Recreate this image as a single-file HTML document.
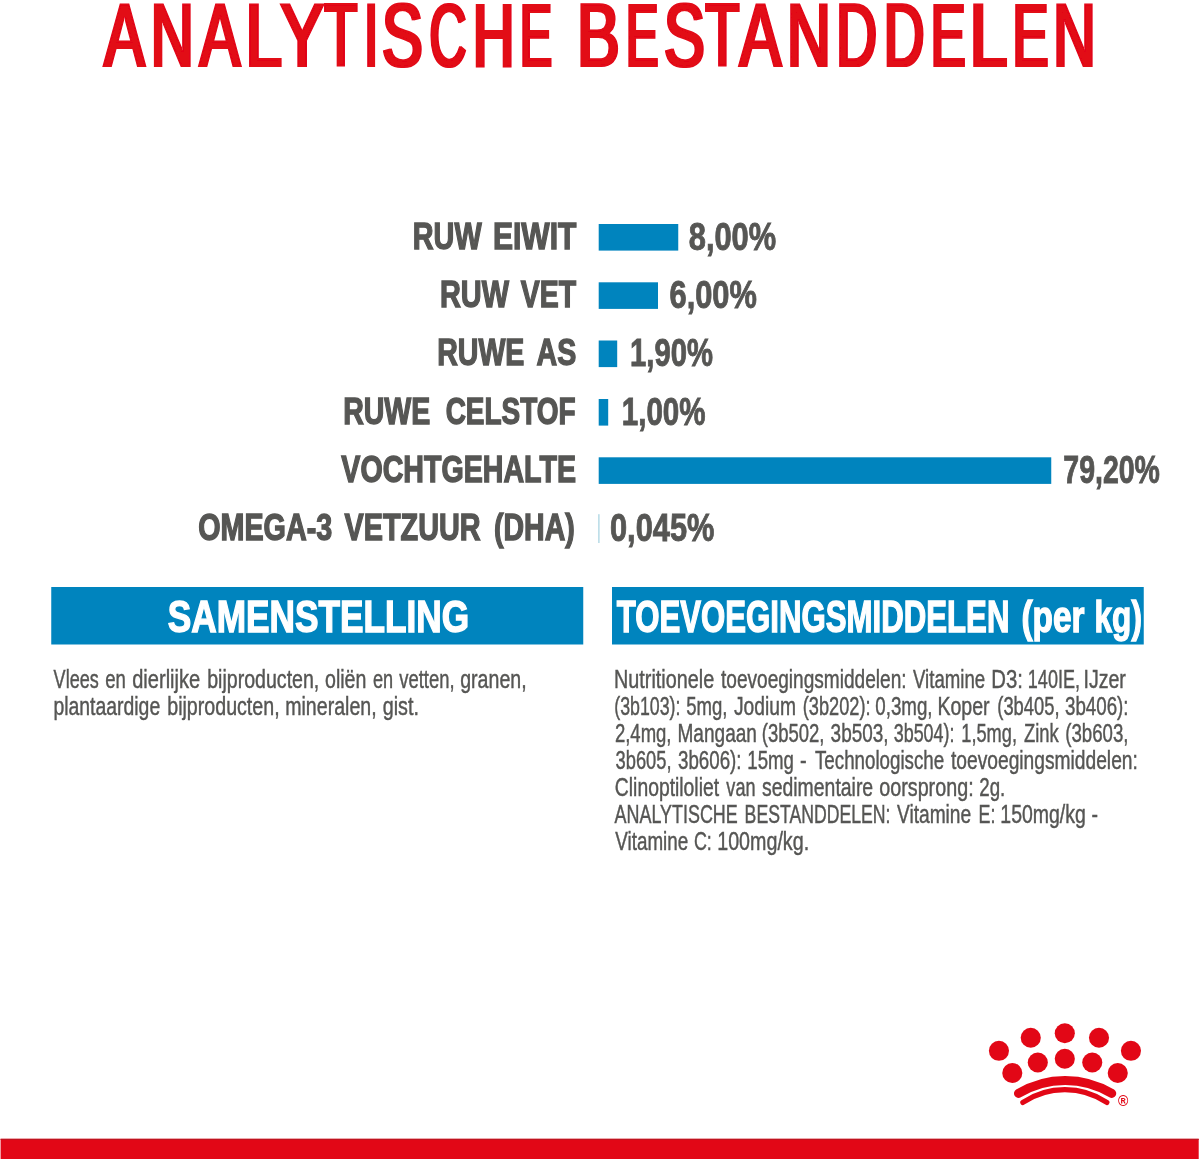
<!DOCTYPE html>
<html lang="nl"><head><meta charset="utf-8"><title>Analytische bestanddelen</title>
<style>
html,body{margin:0;padding:0;background:#fff}
svg{display:block}
svg text{font-family:"Liberation Sans",sans-serif;white-space:pre}
</style></head><body>
<svg width="1200" height="1159" viewBox="0 0 1200 1159">
<defs><filter id="hx" x="-2%" y="-10%" width="104%" height="120%"><feMorphology operator="dilate" radius="1 0"/></filter></defs>
<rect width="1200" height="1159" fill="#fff"/>
<rect x="598.7" y="224.0" width="79.55" height="26.60" fill="#0084be"/>
<rect x="598.7" y="282.3" width="59.30" height="26.60" fill="#0084be"/>
<rect x="598.7" y="340.5" width="18.50" height="26.60" fill="#0084be"/>
<rect x="598.7" y="399.0" width="9.50" height="26.60" fill="#0084be"/>
<rect x="598.7" y="457.3" width="452.55" height="26.60" fill="#0084be"/>
<rect x="598.0" y="514.2" width="1.7" height="28.8" fill="#bfdfe9"/>
<rect x="51.25" y="587" width="532.0" height="57.5" fill="#0084be"/>
<rect x="612" y="587" width="531.75" height="57.5" fill="#0084be"/>
<rect x="0.6" y="1138.8" width="1198.1" height="21" fill="#e20716"/>
<rect x="0.6" y="1138.8" width="1198.1" height="1.2" fill="#bf1420"/>
<circle cx="998.95" cy="1050.8" r="10.05" fill="#e20716"/>
<circle cx="1030.75" cy="1037.75" r="10.05" fill="#e20716"/>
<circle cx="1064.8" cy="1033.25" r="10.05" fill="#e20716"/>
<circle cx="1099" cy="1037.75" r="10.05" fill="#e20716"/>
<circle cx="1130.95" cy="1050.8" r="10.05" fill="#e20716"/>
<circle cx="1012.3" cy="1073" r="10.05" fill="#e20716"/>
<circle cx="1037.8" cy="1062.5" r="10.05" fill="#e20716"/>
<circle cx="1064.8" cy="1058.75" r="10.05" fill="#e20716"/>
<circle cx="1092.25" cy="1062.5" r="10.05" fill="#e20716"/>
<circle cx="1117.75" cy="1073" r="10.05" fill="#e20716"/>
<path d="M1018.5 1093.4 A90 90 0 0 1 1111.7 1093.4" fill="none" stroke="#e20716" stroke-width="9" stroke-linecap="round"/>
<path d="M1022.9 1102.4 A75.3 75.3 0 0 1 1106.8 1102.4" fill="none" stroke="#e20716" stroke-width="5.3" stroke-linecap="round"/>
<text x="1123.1" y="1105.5" font-size="14" font-weight="bold" text-anchor="middle" fill="#e20716">®</text>
<text filter="url(#hx)" y="65.70" font-size="89.54" font-weight="normal" fill="#e20716" stroke="#e20716" stroke-width="2.2" stroke-linejoin="miter"><tspan x="104.35" textLength="40.31" lengthAdjust="spacingAndGlyphs">A</tspan><tspan x="150.70" textLength="42.98" lengthAdjust="spacingAndGlyphs">N</tspan><tspan x="199.75" textLength="40.31" lengthAdjust="spacingAndGlyphs">A</tspan><tspan x="245.62" textLength="36.47" lengthAdjust="spacingAndGlyphs">L</tspan><tspan x="280.62" textLength="43.37" lengthAdjust="spacingAndGlyphs">Y</tspan><tspan x="324.55" textLength="32.71" lengthAdjust="spacingAndGlyphs">T</tspan><tspan x="364.31" textLength="13.82" lengthAdjust="spacingAndGlyphs">I</tspan><tspan x="382.02" textLength="40.77" lengthAdjust="spacingAndGlyphs">S</tspan><tspan x="429.47" textLength="36.79" lengthAdjust="spacingAndGlyphs">C</tspan><tspan x="472.72" textLength="41.84" lengthAdjust="spacingAndGlyphs">H</tspan><tspan x="520.01" textLength="31.93" lengthAdjust="spacingAndGlyphs">E</tspan> <tspan x="576.95" textLength="42.67" lengthAdjust="spacingAndGlyphs">B</tspan><tspan x="625.96" textLength="32.30" lengthAdjust="spacingAndGlyphs">E</tspan><tspan x="664.02" textLength="40.77" lengthAdjust="spacingAndGlyphs">S</tspan><tspan x="705.51" textLength="33.78" lengthAdjust="spacingAndGlyphs">T</tspan><tspan x="739.75" textLength="41.30" lengthAdjust="spacingAndGlyphs">A</tspan><tspan x="787.01" textLength="43.74" lengthAdjust="spacingAndGlyphs">N</tspan><tspan x="836.34" textLength="40.71" lengthAdjust="spacingAndGlyphs">D</tspan><tspan x="883.84" textLength="40.71" lengthAdjust="spacingAndGlyphs">D</tspan><tspan x="930.68" textLength="34.73" lengthAdjust="spacingAndGlyphs">E</tspan><tspan x="969.41" textLength="37.97" lengthAdjust="spacingAndGlyphs">L</tspan><tspan x="1012.54" textLength="35.95" lengthAdjust="spacingAndGlyphs">E</tspan><tspan x="1053.15" textLength="42.47" lengthAdjust="spacingAndGlyphs">N</tspan></text>
<text y="249.35" font-size="37.36" font-weight="bold" fill="#565654" stroke="#565654" stroke-width="1.4" stroke-linejoin="miter"><tspan x="412.76" textLength="68.87" lengthAdjust="spacingAndGlyphs">RUW</tspan> <tspan x="492.89" textLength="83.46" lengthAdjust="spacingAndGlyphs">EIWIT</tspan></text>
<text y="307.35" font-size="37.36" font-weight="bold" fill="#565654" stroke="#565654" stroke-width="1.4" stroke-linejoin="miter"><tspan x="439.95" textLength="68.98" lengthAdjust="spacingAndGlyphs">RUW</tspan> <tspan x="520.70" textLength="55.36" lengthAdjust="spacingAndGlyphs">VET</tspan></text>
<text y="365.45" font-size="37.36" font-weight="bold" fill="#565654" stroke="#565654" stroke-width="1.4" stroke-linejoin="miter"><tspan x="437.27" textLength="87.13" lengthAdjust="spacingAndGlyphs">RUWE</tspan> <tspan x="536.50" textLength="39.70" lengthAdjust="spacingAndGlyphs">AS</tspan></text>
<text y="423.75" font-size="37.36" font-weight="bold" fill="#565654" stroke="#565654" stroke-width="1.4" stroke-linejoin="miter"><tspan x="343.17" textLength="87.13" lengthAdjust="spacingAndGlyphs">RUWE</tspan> <tspan x="445.65" textLength="129.96" lengthAdjust="spacingAndGlyphs">CELSTOF</tspan></text>
<text x="341.30" y="482.25" textLength="234.70" lengthAdjust="spacingAndGlyphs" font-size="37.36" font-weight="bold" fill="#565654" stroke="#565654" stroke-width="1.4" stroke-linejoin="miter">VOCHTGEHALTE</text>
<text y="540.15" font-size="37.36" font-weight="bold" fill="#565654" stroke="#565654" stroke-width="1.4" stroke-linejoin="miter"><tspan x="198.13" textLength="134.07" lengthAdjust="spacingAndGlyphs">OMEGA-3</tspan> <tspan x="344.50" textLength="136.18" lengthAdjust="spacingAndGlyphs">VETZUUR</tspan> <tspan x="494.04" textLength="80.76" lengthAdjust="spacingAndGlyphs">(DHA)</tspan></text>
<text x="688.75" y="249.80" textLength="87.40" lengthAdjust="spacingAndGlyphs" font-size="38.52" font-weight="bold" fill="#565654" stroke="#565654" stroke-width="0.9" stroke-linejoin="miter">8,00%</text>
<text x="669.50" y="307.80" textLength="87.40" lengthAdjust="spacingAndGlyphs" font-size="38.52" font-weight="bold" fill="#565654" stroke="#565654" stroke-width="0.9" stroke-linejoin="miter">6,00%</text>
<text x="630.03" y="366.10" textLength="82.85" lengthAdjust="spacingAndGlyphs" font-size="38.52" font-weight="bold" fill="#565654" stroke="#565654" stroke-width="0.9" stroke-linejoin="miter">1,90%</text>
<text x="621.76" y="424.60" textLength="83.88" lengthAdjust="spacingAndGlyphs" font-size="38.52" font-weight="bold" fill="#565654" stroke="#565654" stroke-width="0.9" stroke-linejoin="miter">1,00%</text>
<text x="1063.31" y="482.80" textLength="96.57" lengthAdjust="spacingAndGlyphs" font-size="38.52" font-weight="bold" fill="#565654" stroke="#565654" stroke-width="0.9" stroke-linejoin="miter">79,20%</text>
<text x="610.00" y="541.00" textLength="104.40" lengthAdjust="spacingAndGlyphs" font-size="38.52" font-weight="bold" fill="#565654" stroke="#565654" stroke-width="0.9" stroke-linejoin="miter">0,045%</text>
<text x="167.70" y="632.00" textLength="301.52" lengthAdjust="spacingAndGlyphs" font-size="43.9" font-weight="bold" fill="#ffffff" stroke="#ffffff" stroke-width="1.4" stroke-linejoin="miter">SAMENSTELLING</text>
<text y="632.00" font-size="43.9" font-weight="bold" fill="#ffffff" stroke="#ffffff" stroke-width="1.4" stroke-linejoin="miter"><tspan x="616.75" textLength="392.67" lengthAdjust="spacingAndGlyphs">TOEVOEGINGSMIDDELEN</tspan> <tspan x="1021.48" textLength="63.08" lengthAdjust="spacingAndGlyphs">(per</tspan> <tspan x="1094.59" textLength="47.32" lengthAdjust="spacingAndGlyphs">kg)</tspan></text>
<text y="687.70" font-size="25.58" font-weight="normal" fill="#565654" stroke="#565654" stroke-width="0.45" stroke-linejoin="miter"><tspan x="53.60" textLength="45.12" lengthAdjust="spacingAndGlyphs">Vlees</tspan> <tspan x="105.28" textLength="20.61" lengthAdjust="spacingAndGlyphs">en</tspan> <tspan x="132.22" textLength="67.96" lengthAdjust="spacingAndGlyphs">dierlijke</tspan> <tspan x="207.23" textLength="112.08" lengthAdjust="spacingAndGlyphs">bijproducten,</tspan> <tspan x="325.03" textLength="41.40" lengthAdjust="spacingAndGlyphs">oliën</tspan> <tspan x="372.99" textLength="20.18" lengthAdjust="spacingAndGlyphs">en</tspan> <tspan x="399.30" textLength="55.21" lengthAdjust="spacingAndGlyphs">vetten,</tspan> <tspan x="460.23" textLength="66.38" lengthAdjust="spacingAndGlyphs">granen,</tspan></text>
<text y="715.00" font-size="25.58" font-weight="normal" fill="#565654" stroke="#565654" stroke-width="0.45" stroke-linejoin="miter"><tspan x="53.44" textLength="106.73" lengthAdjust="spacingAndGlyphs">plantaardige</tspan> <tspan x="167.23" textLength="112.38" lengthAdjust="spacingAndGlyphs">bijproducten,</tspan> <tspan x="285.23" textLength="91.38" lengthAdjust="spacingAndGlyphs">mineralen,</tspan> <tspan x="382.73" textLength="36.20" lengthAdjust="spacingAndGlyphs">gist.</tspan></text>
<text y="688.00" font-size="25.58" font-weight="normal" fill="#565654" stroke="#565654" stroke-width="0.45" stroke-linejoin="miter"><tspan x="614.05" textLength="100.12" lengthAdjust="spacingAndGlyphs">Nutritionele</tspan> <tspan x="721.00" textLength="185.57" lengthAdjust="spacingAndGlyphs">toevoegingsmiddelen:</tspan> <tspan x="913.00" textLength="72.16" lengthAdjust="spacingAndGlyphs">Vitamine</tspan> <tspan x="991.23" textLength="31.63" lengthAdjust="spacingAndGlyphs">D3:</tspan> <tspan x="1027.84" textLength="52.11" lengthAdjust="spacingAndGlyphs">140IE,</tspan> <tspan x="1083.47" textLength="42.41" lengthAdjust="spacingAndGlyphs">IJzer</tspan></text>
<text y="714.93" font-size="25.58" font-weight="normal" fill="#565654" stroke="#565654" stroke-width="0.45" stroke-linejoin="miter"><tspan x="614.31" textLength="66.16" lengthAdjust="spacingAndGlyphs">(3b103):</tspan> <tspan x="686.27" textLength="41.25" lengthAdjust="spacingAndGlyphs">5mg,</tspan> <tspan x="734.00" textLength="61.98" lengthAdjust="spacingAndGlyphs">Jodium</tspan> <tspan x="802.79" textLength="67.71" lengthAdjust="spacingAndGlyphs">(3b202):</tspan> <tspan x="875.27" textLength="57.28" lengthAdjust="spacingAndGlyphs">0,3mg,</tspan> <tspan x="937.47" textLength="52.16" lengthAdjust="spacingAndGlyphs">Koper</tspan> <tspan x="997.28" textLength="62.23" lengthAdjust="spacingAndGlyphs">(3b405,</tspan> <tspan x="1065.00" textLength="63.54" lengthAdjust="spacingAndGlyphs">3b406):</tspan></text>
<text y="741.86" font-size="25.58" font-weight="normal" fill="#565654" stroke="#565654" stroke-width="0.45" stroke-linejoin="miter"><tspan x="614.88" textLength="56.65" lengthAdjust="spacingAndGlyphs">2,4mg,</tspan> <tspan x="677.51" textLength="79.40" lengthAdjust="spacingAndGlyphs">Mangaan</tspan> <tspan x="761.78" textLength="62.75" lengthAdjust="spacingAndGlyphs">(3b502,</tspan> <tspan x="830.60" textLength="57.96" lengthAdjust="spacingAndGlyphs">3b503,</tspan> <tspan x="893.75" textLength="60.72" lengthAdjust="spacingAndGlyphs">3b504):</tspan> <tspan x="961.29" textLength="55.71" lengthAdjust="spacingAndGlyphs">1,5mg,</tspan> <tspan x="1024.00" textLength="34.85" lengthAdjust="spacingAndGlyphs">Zink</tspan> <tspan x="1065.27" textLength="63.27" lengthAdjust="spacingAndGlyphs">(3b603,</tspan></text>
<text y="768.79" font-size="25.58" font-weight="normal" fill="#565654" stroke="#565654" stroke-width="0.45" stroke-linejoin="miter"><tspan x="615.60" textLength="55.91" lengthAdjust="spacingAndGlyphs">3b605,</tspan> <tspan x="678.00" textLength="63.54" lengthAdjust="spacingAndGlyphs">3b606):</tspan> <tspan x="747.27" textLength="46.62" lengthAdjust="spacingAndGlyphs">15mg</tspan> <tspan x="799.97" textLength="6.68" lengthAdjust="spacingAndGlyphs">-</tspan> <tspan x="815.00" textLength="129.17" lengthAdjust="spacingAndGlyphs">Technologische</tspan> <tspan x="951.00" textLength="186.83" lengthAdjust="spacingAndGlyphs">toevoegingsmiddelen:</tspan></text>
<text y="795.72" font-size="25.58" font-weight="normal" fill="#565654" stroke="#565654" stroke-width="0.45" stroke-linejoin="miter"><tspan x="614.84" textLength="104.24" lengthAdjust="spacingAndGlyphs">Clinoptiloliet</tspan> <tspan x="726.35" textLength="29.17" lengthAdjust="spacingAndGlyphs">van</tspan> <tspan x="762.00" textLength="111.17" lengthAdjust="spacingAndGlyphs">sedimentaire</tspan> <tspan x="879.23" textLength="94.40" lengthAdjust="spacingAndGlyphs">oorsprong:</tspan> <tspan x="979.27" textLength="26.02" lengthAdjust="spacingAndGlyphs">2g.</tspan></text>
<text y="822.65" font-size="25.58" font-weight="normal" fill="#565654" stroke="#565654" stroke-width="0.45" stroke-linejoin="miter"><tspan x="614.60" textLength="123.14" lengthAdjust="spacingAndGlyphs">ANALYTISCHE</tspan> <tspan x="744.62" textLength="145.83" lengthAdjust="spacingAndGlyphs">BESTANDDELEN:</tspan> <tspan x="897.00" textLength="74.17" lengthAdjust="spacingAndGlyphs">Vitamine</tspan> <tspan x="978.60" textLength="16.87" lengthAdjust="spacingAndGlyphs">E:</tspan> <tspan x="1000.32" textLength="85.54" lengthAdjust="spacingAndGlyphs">150mg/kg</tspan> <tspan x="1091.41" textLength="6.49" lengthAdjust="spacingAndGlyphs">-</tspan></text>
<text y="849.58" font-size="25.58" font-weight="normal" fill="#565654" stroke="#565654" stroke-width="0.45" stroke-linejoin="miter"><tspan x="615.30" textLength="72.87" lengthAdjust="spacingAndGlyphs">Vitamine</tspan> <tspan x="693.92" textLength="17.93" lengthAdjust="spacingAndGlyphs">C:</tspan> <tspan x="717.23" textLength="91.89" lengthAdjust="spacingAndGlyphs">100mg/kg.</tspan></text>
</svg>
</body></html>
